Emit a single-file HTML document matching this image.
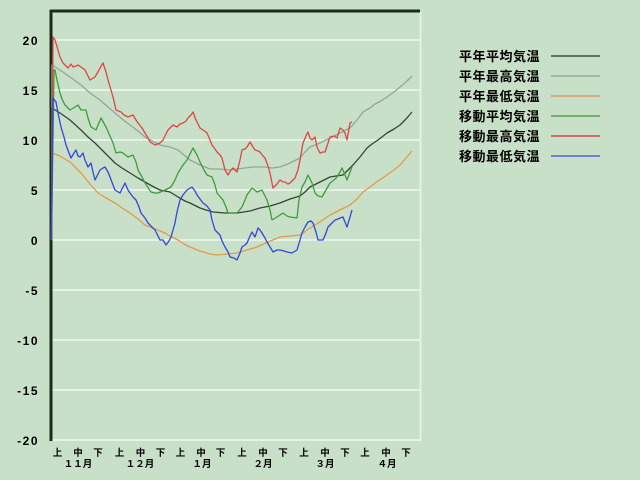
<!DOCTYPE html>
<html>
<head>
<meta charset="utf-8">
<style>
html,body{margin:0;padding:0;background:#c8dfc8;}
svg{display:block;}
.yl{font-family:"Liberation Sans",sans-serif;font-weight:bold;font-size:12px;fill:#000;letter-spacing:1.5px;}
.xl{font-family:"Liberation Sans","Noto Sans CJK JP",sans-serif;font-size:9.5px;fill:#000;font-weight:bold;}
.lg{font-family:"Liberation Sans","Noto Sans CJK JP",sans-serif;font-size:13px;font-weight:bold;fill:#000;letter-spacing:0.5px;}
</style>
</head>
<body>
<svg width="640" height="480" viewBox="0 0 640 480" xmlns="http://www.w3.org/2000/svg">
<rect x="0" y="0" width="640" height="480" fill="#c8dfc8"/>
<!-- gridlines -->
<g stroke="#e4f1e4" stroke-width="2">
<line x1="52" y1="40" x2="420" y2="40"/>
<line x1="52" y1="90" x2="420" y2="90"/>
<line x1="52" y1="140" x2="420" y2="140"/>
<line x1="52" y1="190" x2="420" y2="190"/>
<line x1="52" y1="240" x2="420" y2="240"/>
<line x1="52" y1="290" x2="420" y2="290"/>
<line x1="52" y1="340" x2="420" y2="340"/>
<line x1="52" y1="390" x2="420" y2="390"/>
<line x1="52" y1="440" x2="421" y2="440"/>
<line x1="420.5" y1="12" x2="420.5" y2="441"/>
</g>
<!-- axes -->
<line x1="50" y1="11" x2="420" y2="11" stroke="#1a2c1a" stroke-width="3"/>
<line x1="51" y1="10" x2="51" y2="441" stroke="#1a2c1a" stroke-width="3"/>

<!-- y labels -->
<g class="yl" text-anchor="end">
<text x="39" y="45">20</text>
<text x="39" y="95">15</text>
<text x="39" y="145">10</text>
<text x="39" y="195">5</text>
<text x="39" y="245">0</text>
<text x="39" y="295">-5</text>
<text x="39" y="345">-10</text>
<text x="39" y="395">-15</text>
<text x="39" y="445">-20</text>
</g>

<!-- x labels -->
<g class="xl" text-anchor="middle">
<text x="57.5" y="456">上</text><text x="78" y="456">中</text><text x="98" y="456">下</text>
<text x="119.5" y="456">上</text><text x="140.5" y="456">中</text><text x="160.5" y="456">下</text>
<text x="180.5" y="456">上</text><text x="201" y="456">中</text><text x="220.5" y="456">下</text>
<text x="242" y="456">上</text><text x="263" y="456">中</text><text x="283" y="456">下</text>
<text x="304" y="456">上</text><text x="325" y="456">中</text><text x="345" y="456">下</text>
<text x="365" y="456">上</text><text x="386" y="456">中</text><text x="406" y="456">下</text>
<text x="78" y="467">１１月</text>
<text x="140" y="467">１２月</text>
<text x="202" y="467">１月</text>
<text x="263" y="467">２月</text>
<text x="325" y="467">３月</text>
<text x="387" y="467">４月</text>
</g>

<!-- series -->
<g fill="none" stroke-width="1.3" stroke-linejoin="round">
<!-- normal max gray -->
<polyline stroke="#96a696" points="51.5,240 52,65 60,70 70,77 81,85 90,93 100,100 108,107 115,113 122,119 130,125 138,131 145,137 152,141 160,145 170,147 178,150 184,155 190,160 200,165 210,169 220,169 230,170 237,169 245,168 253,167 265,167 272,168 280,167 290,163 300,158 305,152 310,147 320,143 330,138 340,133 350,128 357,120 363,112 370,108 375,104 381,101 387,97 394,92 400,87 406,82 412,76"/>
<!-- normal min orange -->
<polyline stroke="#e39a4a" points="51.5,240 52,153 60,156 70,162 76,168 81,173 90,184 98,193 106,198 115,203 122,208 130,213 138,219 145,225 155,229 165,233 170,236 178,240 184,244 190,247 200,251 210,254 217,255 227,254 237,253 247,250 257,247 268,242 280,237 290,236 300,235 310,228 320,222 330,215 340,210 350,205 357,199 363,192 370,187 378,181 387,175 394,170 400,165 406,158 412,151"/>
<!-- normal mean dark -->
<polyline stroke="#354535" points="51.5,240 52,108 60,113 70,120 81,130 88,137 95,143 105,153 115,163 122,168 130,173 138,178 145,182 152,186 160,190 170,192 178,197 185,201 190,203 200,208 206,210 213,212 225,213 237,213 250,211 260,208 270,206 280,203 290,199 300,196 305,192 310,187 320,182 330,177 336,176 343,175 348,170 353,165 360,157 367,148 372,144 378,140 387,133 394,129 400,125 406,119 412,112"/>
<!-- moving mean green -->
<polyline stroke="#3c9e3c" points="51.5,240 54,70 55,70 57,80 60,93 62,99 65,105 70,110 75,107 78,105 81,110 86,110 88,118 91,127 96,130 101,118 106,127 110,136 113,143 116,153 120,152 123,153 128,157 133,155 136,162 138,170 142,177 145,183 151,192 155,193 158,193 165,190 171,187 175,180 178,173 183,165 187,160 193,148 197,155 200,162 204,170 207,175 212,177 215,185 217,193 223,200 226,207 228,213 237,213 242,207 245,200 247,195 252,188 257,192 262,190 265,196 267,200 270,210 272,220 277,217 283,213 287,216 290,217 297,218 299,200 302,187 305,182 308,175 312,183 315,193 318,196 322,197 326,190 330,183 334,180 337,177 340,172 342,168 345,175 347,180 350,172 352,167"/>
<!-- moving max red -->
<polyline stroke="#e04545" points="51.5,240 53,37 55,40 58,50 60,57 63,63 66,66 68,68 71,64 73,67 76,66 78,65 81,67 85,70 88,76 90,80 95,77 99,70 103,63 106,72 108,80 111,90 113,97 116,110 121,112 124,115 128,117 133,115 136,120 138,123 142,128 145,133 148,138 150,142 155,145 160,143 163,140 166,134 168,130 171,127 173,125 177,127 180,124 183,123 186,121 188,118 191,115 193,112 196,120 200,128 203,130 207,133 210,140 212,145 215,149 217,152 220,155 222,158 225,170 228,175 231,170 233,168 237,172 240,160 242,150 245,149 247,147 250,142 253,147 255,150 258,151 260,152 263,156 265,158 268,166 270,173 273,188 277,184 280,180 283,182 285,182 288,184 290,183 295,178 298,170 300,160 303,143 306,136 308,132 310,138 312,140 315,137 317,147 320,153 323,152 325,152 328,143 330,137 334,136 337,138 340,128 343,130 345,133 347,140 350,123 352,122"/>
<!-- moving min blue -->
<polyline stroke="#3545dd" points="51.5,240 53,98 56,102 58,113 61,127 64,137 66,145 69,153 71,158 74,153 76,150 78,156 80,157 83,153 85,160 88,167 91,163 93,172 95,180 98,174 100,170 103,168 105,167 108,172 110,177 113,185 115,190 120,193 123,187 125,183 128,190 130,193 133,197 136,200 139,207 141,213 145,218 148,223 152,227 155,230 158,236 160,240 163,240 166,245 169,241 171,237 173,230 175,223 177,212 180,200 183,195 187,190 192,187 195,191 197,195 200,199 203,203 207,206 210,210 212,220 215,230 220,235 222,241 225,247 228,252 230,257 234,258 237,260 240,253 242,247 245,245 247,243 250,236 252,232 255,237 258,228 260,230 262,233 265,238 267,242 270,247 273,252 277,250 280,250 284,251 287,252 292,253 297,250 300,240 302,233 305,227 308,222 311,221 313,223 316,232 318,240 323,240 326,233 328,227 332,223 335,220 338,219 340,218 343,217 345,222 347,227 350,217 352,210"/>
</g>

<!-- legend -->
<g class="lg">
<text x="459" y="61">平年平均気温</text>
<text x="459" y="81">平年最高気温</text>
<text x="459" y="101">平年最低気温</text>
<text x="459" y="121">移動平均気温</text>
<text x="459" y="141">移動最高気温</text>
<text x="459" y="161">移動最低気温</text>
</g>
<g stroke-width="2">
<line x1="551" y1="56" x2="600" y2="56" stroke="#5c735c"/>
<line x1="551" y1="76" x2="600" y2="76" stroke="#a6b6a6"/>
<line x1="551" y1="96" x2="600" y2="96" stroke="#d8ad82"/>
<line x1="551" y1="116" x2="600" y2="116" stroke="#6eb06e"/>
<line x1="551" y1="136" x2="600" y2="136" stroke="#d46a6a"/>
<line x1="551" y1="156" x2="600" y2="156" stroke="#6a82d2"/>
</g>
</svg>
</body>
</html>
